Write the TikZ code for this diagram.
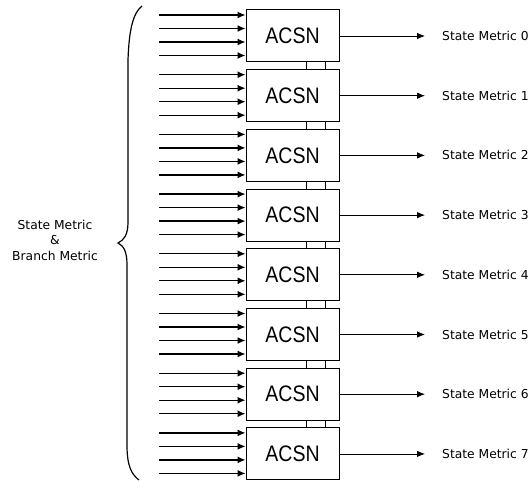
\documentclass[tikz,border=0pt]{standalone}
\usepackage{fontspec}
\usepackage{graphicx}
\usetikzlibrary{arrows.meta,calc}
\newfontfamily\lblfont{DejaVu Sans}
\newfontfamily\boxfont{Liberation Sans}
\begin{document}
\begin{tikzpicture}[x=1pt,y=-1pt,
  acsn/.style={draw,line width=1pt,minimum width=93pt,minimum height=52pt,inner sep=0pt,
    font=\boxfont\fontsize{19.5}{22}\selectfont},
  inarrow/.style={line width=1.3pt,-{Latex[length=8pt,width=7pt]}},
  outarrow/.style={line width=0.8pt,-{Latex[length=8pt,width=6.5pt]}},
  link/.style={line width=0.9pt},
  metric/.style={anchor=west,inner sep=0pt,font=\lblfont\fontsize{12.3}{15}\selectfont},
  bracestyle/.style={line width=1.2pt}]
\useasboundingbox (0,0) rectangle (532,481);
\foreach \i in {0,...,7}{
  \pgfmathsetmacro{\t}{10+59.7*\i}
  \pgfmathsetmacro{\c}{\t+26}
  \node[acsn] (b\i) at (292.5,\c) {\scalebox{1}[1.15]{ACSN}};
  \foreach \j/\d in {0/5,1/18.5,2/32,3/45.5}{
    \pgfmathsetmacro{\yy}{\t+\d}
    \coordinate (s\i\j) at (159,\yy);
    \draw[inarrow] (s\i\j) -- (s\i\j -| b\i.west);
  }
  \coordinate (e\i) at (425,\c);
  \node[metric] (l\i) at (442,\c) {State Metric \i};
  \draw[outarrow] (b\i.east) -- (e\i);
}
\foreach \i/\j in {0/1,1/2,2/3,3/4,4/5,5/6,6/7}{
  \draw[link] ([xshift=13.5pt]b\i.south) -- ([xshift=13.5pt]b\j.north);
  \draw[link] ([xshift=32.5pt]b\i.south) -- ([xshift=32.5pt]b\j.north);
}
\draw[bracestyle] (142,6) .. controls (133,13) and (129,30) .. (128,60)
  -- (128,222) .. controls (128,235) and (124,240) .. (118,243)
  .. controls (124,246) and (127,252) .. (127,265)
  -- (127,445) .. controls (127,465) and (131,474) .. (139,480);
\node[align=center,font=\lblfont\fontsize{12.3}{15.5}\selectfont] (lbl) at (55,240)
  {State Metric\\\&\\Branch Metric};
\end{tikzpicture}
\end{document}
